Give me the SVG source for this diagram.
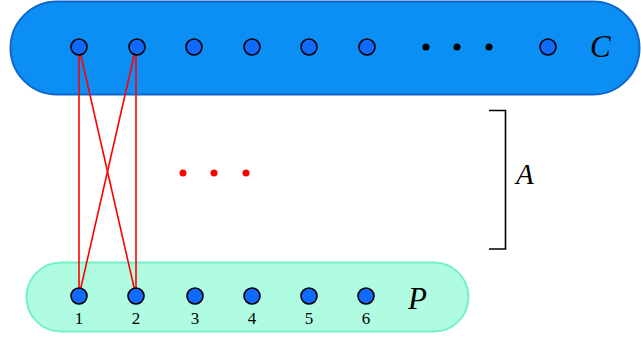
<svg xmlns="http://www.w3.org/2000/svg" width="641" height="337" viewBox="0 0 641 337">
  <style>
    .node { fill: #0F6BFF; stroke: #000; stroke-width: 1.6; }
    .dot-black { fill: #000; }
    .dot-red { fill: #FF0000; }
    .edge { stroke: #FF0000; stroke-width: 1.6; fill: none; }
    .set-label { font-family: "Liberation Serif", serif; font-style: italic; font-size: 31px; fill: #000; }
    .num { font-family: "Liberation Serif", serif; font-size: 17px; fill: #000; text-anchor: middle; }
    .bracket { stroke: #000; stroke-width: 1.6; fill: none; }
  </style>

  <!-- set C -->
  <g id="set-C">
    <rect x="10.5" y="1.5" width="629" height="93" rx="46.5" fill="#0B8FF5" stroke="#1166C8" stroke-width="2"/>
    <text class="set-label" x="590" y="57">C</text>
  </g>

  <!-- set P -->
  <g id="set-P">
    <rect x="26.5" y="262.5" width="442" height="69" rx="34.5" fill="#B0FCE2" stroke="#74F0C8" stroke-width="2"/>
    <text class="set-label" x="408" y="309">P</text>
  </g>

  <!-- edges between C and P -->
  <g id="connectors">
    <line class="edge" x1="79" y1="47" x2="79" y2="296"/>
    <line class="edge" x1="79" y1="47" x2="136" y2="296"/>
    <line class="edge" x1="136" y1="47" x2="79" y2="296"/>
    <line class="edge" x1="136" y1="47" x2="136" y2="296"/>
  </g>

  <!-- vertices of C -->
  <g id="c1"><circle class="node" cx="79" cy="47" r="8"/></g>
  <g id="c2"><circle class="node" cx="137" cy="47" r="8"/></g>
  <g id="c3"><circle class="node" cx="194" cy="47" r="8"/></g>
  <g id="c4"><circle class="node" cx="252" cy="47" r="8"/></g>
  <g id="c5"><circle class="node" cx="309" cy="47" r="8"/></g>
  <g id="c6"><circle class="node" cx="367" cy="47" r="8"/></g>
  <g id="c-ellipsis">
    <circle class="dot-black" cx="426" cy="47" r="3.5"/>
    <circle class="dot-black" cx="457" cy="47" r="3.5"/>
    <circle class="dot-black" cx="489" cy="47" r="3.5"/>
  </g>
  <g id="c-last"><circle class="node" cx="548" cy="47" r="8"/></g>

  <!-- vertices of P -->
  <g id="p1"><circle class="node" cx="79" cy="296" r="8"/><text class="num" x="79" y="324">1</text></g>
  <g id="p2"><circle class="node" cx="136" cy="296" r="8"/><text class="num" x="136" y="324">2</text></g>
  <g id="p3"><circle class="node" cx="195" cy="296" r="8"/><text class="num" x="195" y="324">3</text></g>
  <g id="p4"><circle class="node" cx="252" cy="296" r="8"/><text class="num" x="252" y="324">4</text></g>
  <g id="p5"><circle class="node" cx="309" cy="296" r="8"/><text class="num" x="309" y="324">5</text></g>
  <g id="p6"><circle class="node" cx="366" cy="296" r="8"/><text class="num" x="366" y="324">6</text></g>

  <!-- further edges -->
  <g id="edge-ellipsis">
    <circle class="dot-red" cx="183" cy="173" r="3.5"/>
    <circle class="dot-red" cx="214" cy="173" r="3.5"/>
    <circle class="dot-red" cx="246" cy="173" r="3.5"/>
  </g>

  <!-- bracket A -->
  <g id="bracket-A">
    <path class="bracket" d="M489 110.5 H505.5 V249 H489"/>
    <text class="set-label" x="516" y="184" style="font-size:29px">A</text>
  </g>
</svg>
